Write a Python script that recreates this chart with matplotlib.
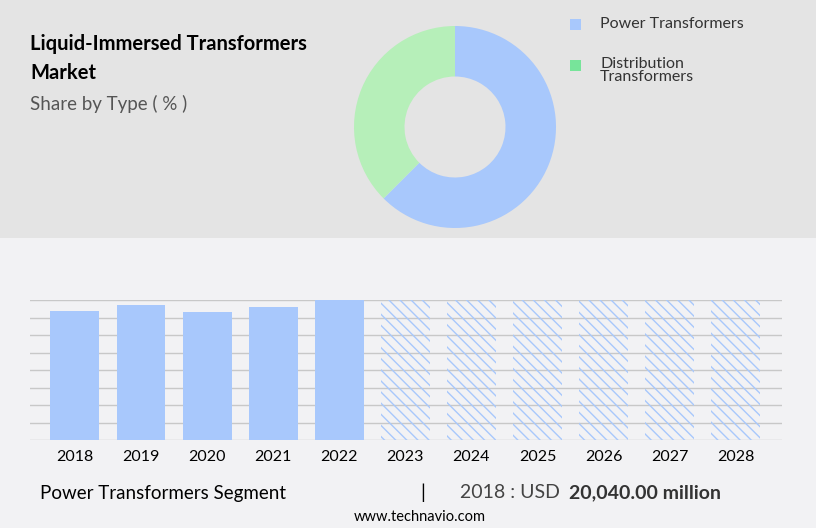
import matplotlib.pyplot as plt
import matplotlib.patches as mpatches

years = ["2018", "2019", "2020", "2021", "2022", "2023", "2024", "2025", "2026", "2027", "2028"]
values = [20040, 20970, 19880, 20660, 21750]
forecast_level = 21750
segments = ["Power Transformers", "Distribution\nTransformers"]
shares = [62.5, 37.5]
colors = ["#a8c8fc", "#b6efb9"]
legend_colors = ["#a8c8fc", "#77e49a"]

plt.rcParams["font.family"] = ["Lato", "DejaVu Sans"]
plt.rcParams["hatch.linewidth"] = 1.0

fig = plt.figure(figsize=(8.16, 5.28), dpi=100)
fig.patch.set_facecolor("#f2f2f4")

# grey top panel
bg = fig.add_axes([0, 1 - 238 / 528, 1, 238 / 528], zorder=-5)
bg.set_facecolor("#e4e4e4")
bg.set_xticks([])
bg.set_yticks([])
for s in bg.spines.values():
    s.set_visible(False)

fig.text(30 / 816, 1 - 44 / 528, "Liquid-Immersed Transformers", fontsize=14.5, fontweight="bold", va="center")
fig.text(30 / 816, 1 - 73 / 528, "Market", fontsize=14.5, fontweight="bold", va="center")
fig.text(30 / 816, 1 - 104 / 528, "Share by Type ( % )", fontsize=13.5, color="#555555", va="center")

# donut
ax_p = fig.add_axes([354 / 816, 1 - 228 / 528, 202 / 816, 202 / 528])
ax_p.pie(shares, colors=colors, startangle=90, counterclock=False,
         wedgeprops=dict(width=0.5, edgecolor="none"))
ax_p.set_xlim(-1, 1)
ax_p.set_ylim(-1, 1)
ax_p.set_aspect("equal")

# legend
for i, (lab, c) in enumerate(zip(segments, legend_colors)):
    y = 1 - (24 + i * 41) / 528
    fig.patches.append(mpatches.Rectangle((570 / 816, y - 6 / 528), 11 / 816, 11 / 528,
                                          transform=fig.transFigure, facecolor=c, edgecolor="none"))
    fig.text(600 / 816, y + (8 / 528 if "\n" in lab else 0), lab, fontsize=11.5, color="#333333",
             va="top" if "\n" in lab else "center", linespacing=0.95)

# bars
ax = fig.add_axes([30 / 816, 1 - 440 / 528, 752 / 816, 140 / 528])
ax.set_facecolor("none")
x = list(range(len(years)))
ax.bar(x[:len(values)], values, width=0.74, color="#a8c8fc", zorder=2)
ax.bar(x[len(values):], [forecast_level] * (len(years) - len(values)), width=0.74,
       color="none", edgecolor="#a8c8fc", linewidth=0, hatch="\\\\\\", zorder=2)
ax.set_ylim(0, forecast_level)
ax.set_xlim(-0.68, 10.7)
ax.set_yticks([forecast_level * k / 8 for k in range(9)])
ax.yaxis.grid(True, color="#c8c8c8", linewidth=1)
ax.set_axisbelow(True)
ax.tick_params(left=False, labelleft=False, bottom=False)
for s in ax.spines.values():
    s.set_visible(False)
ax.set_xticks(x)
ax.set_xticklabels(years, fontsize=11.5)

fig.text(40 / 816, 1 - 493 / 528, "Power Transformers Segment", fontsize=13.5, va="center")
fig.text(420 / 816, 1 - 493 / 528, "|", fontsize=14, va="center")
fig.text(460 / 816, 1 - 493 / 528, "2018 : USD ", fontsize=14, color="#444444", va="center")
fig.text(569 / 816, 1 - 493 / 528, "20,040.00 million", fontsize=14, fontweight="bold", color="#333333", va="center")
fig.text(0.515, 1 - 517 / 528, "www.technavio.com", fontsize=10.5, ha="center", va="center")

fig.savefig("out.png", dpi=100, facecolor=fig.get_facecolor())
